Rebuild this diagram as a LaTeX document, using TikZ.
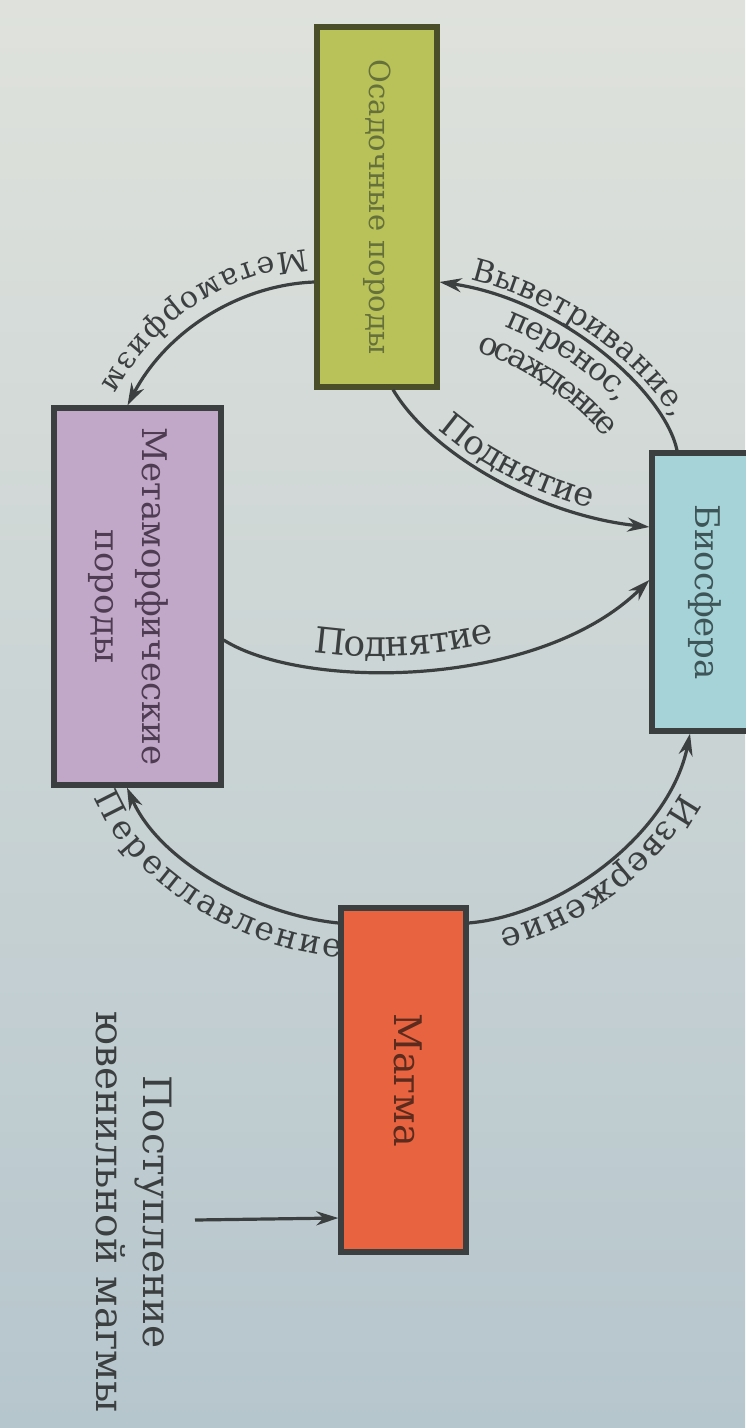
\documentclass[tikz,border=0pt]{standalone}
\usepackage{fontspec}
\setmainfont{DejaVu Serif}
\usepackage{graphicx}
\usetikzlibrary{arrows.meta, decorations.text}
\definecolor{ink}{HTML}{3C3F40}
\definecolor{bgtop}{HTML}{DFE2DC}
\definecolor{bgbot}{HTML}{B6C6CD}
\definecolor{osadfill}{HTML}{B9C258}
\definecolor{osadline}{HTML}{4A4F2A}
\definecolor{osadtext}{HTML}{66703A}
\definecolor{metafill}{HTML}{C2A8C8}
\definecolor{metatext}{HTML}{4E3C52}
\definecolor{biofill}{HTML}{A6D3D8}
\definecolor{biotext}{HTML}{3E5558}
\definecolor{magmafill}{HTML}{E8633F}
\definecolor{magmatext}{HTML}{5C2B1D}
\newcommand\lblfont{\fontsize{17}{23.5}\selectfont}
\newcommand\sidetext[1]{\rotatebox{-90}{\begin{tabular}{@{}c@{}}#1\end{tabular}}}

\begin{document}
\begin{tikzpicture}[
    x=0.5pt, y=-0.5pt,
    >={Stealth[length=11pt, width=7pt]},
    rock/.style={fill=#1, draw=ink, line width=2.6pt, inner sep=0pt, font=\lblfont},
    link/.style={draw=ink, line width=1.6pt},
    along/.style n args={4}{postaction={decorate, decoration={text along path,
        text align={center,#3}, raise=#1, text={|\fontsize{#2}{#2}\selectfont\color{ink}|#4}}}},
]
    % page
    \shade[top color=bgtop, bottom color=bgbot] (0,0) rectangle (745,1428);
    \useasboundingbox (0,0) rectangle (745,1428);

    % rocks
    \node[rock=osadfill, draw=osadline, text=osadtext, minimum width=60pt, minimum height=180pt,
          font=\fontsize{14.5}{18}\selectfont] (osad) at (377,207) {\sidetext{Осадочные породы}};
    \node[rock=metafill, minimum width=83.5pt, minimum height=188.5pt,
          label={[xshift=-4.5pt, text=metatext, font=\lblfont]center:\sidetext{Метаморфические\\породы}}]
          (meta) at (137.5,596.5) {};
    \node[rock=biofill, text=biotext, minimum width=53pt, minimum height=139pt]
          (bio) at (705,592) {\sidetext{Биосфера}};
    \node[rock=magmafill, text=magmatext, minimum width=62.5pt, minimum height=172pt,
          font=\fontsize{19}{23.5}\selectfont] (magma) at (403.5,1080) {\sidetext{Магма}};
    \node[font=\fontsize{19.5}{23.5}\selectfont, text=ink] (inflow) at (129,1212)
          {\sidetext{Поступление\\ювенильной магмы}};
    \coordinate (src) at (195,1220);

    % cycle
    \draw[link, ->, along={-16pt}{15}{}{Метаморфизм}]
        ([yshift=-37.5pt]osad.west) .. controls +(-77,3) and +(38,-73) .. ([xshift=-5pt]meta.north);
    \draw[link, <-, along={4pt}{15.5}{}{Выветривание,}, along={-13pt}{16}{}{перенос,},
          along={-29.5pt}{16}{}{осаждение}]
        ([yshift=-37.5pt]osad.east) .. controls +(123,18) and +(-12,-58) .. ([xshift=-14pt]bio.north);
    \draw[link, ->, along={4pt}{17}{}{Поднятие}]
        ([xshift=8pt]osad.south) .. controls +(37,63) and +(-112,-12) .. ([yshift=32.5pt]bio.west);
    \draw[link, ->, along={8pt}{18}{right indent=40pt}{Поднятие}]
        ([yshift=-21.75pt]meta.east) .. controls +(79,50) and +(-112,110) .. ([yshift=6pt]bio.west);
    \draw[link, <-, along={-17pt}{16.5}{}{Переплавление}]
        ([xshift=-5.25pt]meta.south) .. controls +(33,75) and +(-81,-8) .. ([yshift=78.5pt]magma.west);
    \draw[link, <-, along={6pt}{17}{left indent=14pt}{Извержение}]
        ([xshift=-7.5pt]bio.south) .. controls +(-20,99) and +(94,-8) .. ([yshift=78.5pt]magma.east);
    \draw[link, ->] (src) -- ([yshift=-69pt]magma.west);
\end{tikzpicture}
\end{document}
